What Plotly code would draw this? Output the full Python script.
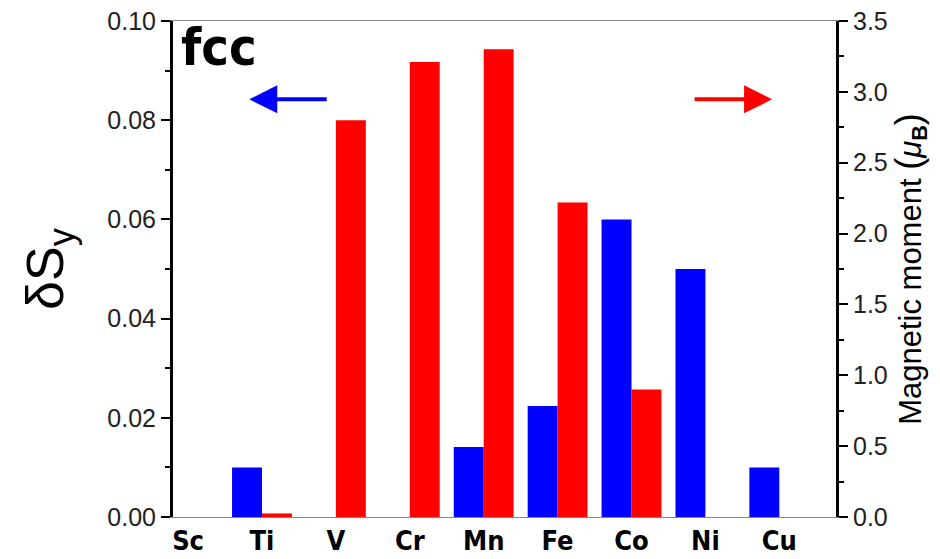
import plotly.graph_objects as go

elements = ["Sc", "Ti", "V", "Cr", "Mn", "Fe", "Co", "Ni", "Cu"]
delta_sy = [0.0, 0.010, 0.0, 0.0, 0.0141, 0.0224, 0.060, 0.050, 0.010]
moment = [0.0, 0.025, 2.80, 3.21, 3.30, 2.22, 0.90, 0.0, 0.0]

left_ticks = [0.00, 0.02, 0.04, 0.06, 0.08, 0.10]
right_ticks = [0.0, 0.5, 1.0, 1.5, 2.0, 2.5, 3.0, 3.5]

xpos = list(range(len(elements)))
cond = "DejaVu Sans Condensed, Liberation Sans, Arial"

fig = go.Figure()
fig.add_trace(go.Bar(x=xpos, y=delta_sy, width=0.405, offset=-0.405,
                     marker=dict(color="#0000ff", line=dict(width=0)),
                     yaxis="y", showlegend=False))
fig.add_trace(go.Bar(x=xpos, y=moment, width=0.405, offset=0,
                     marker=dict(color="#ff0000", line=dict(width=0)),
                     yaxis="y2", showlegend=False))

fig.update_layout(
    width=932, height=551,
    margin=dict(l=165, r=104, t=13, b=42),
    plot_bgcolor="white", paper_bgcolor="white",
    barmode="overlay",
    font=dict(family="Liberation Sans, Arial, sans-serif", color="black"),
    xaxis=dict(range=[-0.204, 8.767], tickmode="array", tickvals=xpos,
               ticktext=elements, showgrid=False, zeroline=False,
               showline=True, linecolor="#888888", linewidth=1, mirror=True,
               ticks="", automargin=False, ticklabeloverflow="allow",
               tickfont=dict(size=27, family=cond, weight="bold", color="black"),
               ticklabelstandoff=0),
    yaxis=dict(range=[0, 0.1], tickmode="array", tickvals=left_ticks,
               ticktext=[f"{v:.2f}" for v in left_ticks], automargin=False,
               ticklabeloverflow="allow",
               showgrid=False, zeroline=False, showline=True,
               linecolor="black", linewidth=3, ticks="outside", ticklen=9,
               tickwidth=2, tickcolor="black",
               minor=dict(dtick=0.01, ticks="outside", ticklen=5, tickwidth=2, tickcolor="black"),
               tickfont=dict(size=25, color="#222222"),
               title=dict(text="δS<sub>y</sub>", font=dict(size=52, color="black"), standoff=28)),
    yaxis2=dict(range=[0, 3.5], overlaying="y", side="right", tickmode="array",
                tickvals=right_ticks, ticktext=[f"{v:.1f}" for v in right_ticks],
                showgrid=False, zeroline=False, showline=True, automargin=False,
                ticklabeloverflow="allow",
                linecolor="black", linewidth=3, ticks="outside", ticklen=9,
                tickwidth=2, tickcolor="black",
                minor=dict(dtick=0.25, ticks="outside", ticklen=5, tickwidth=2, tickcolor="black"),
                tickfont=dict(size=25, color="#222222"),
                title=dict(text="Magnetic moment <span style=\"font-size:36px\">(</span><i>μ</i><sub><b>B</b></sub><span style=\"font-size:36px\">)</span>",
                           font=dict(size=31, color="black"), standoff=4)),
)

fig.add_annotation(x=-0.12, y=1.0, xref="x", yref="paper", xanchor="left", yanchor="top",
                   text="<b>fcc</b>", showarrow=False, yshift=6,
                   font=dict(size=52, family=cond, color="black"))

fig.add_annotation(x=0.828, y=0.0842, xref="x", yref="y", ax=1.896, ay=0.0842,
                   axref="x", ayref="y", text="", showarrow=True,
                   arrowhead=2, arrowsize=1.4, arrowwidth=4, arrowcolor="#0000ff")
fig.add_annotation(x=7.902, y=0.0842, xref="x", yref="y", ax=6.833, ay=0.0842,
                   axref="x", ayref="y", text="", showarrow=True,
                   arrowhead=2, arrowsize=1.4, arrowwidth=4, arrowcolor="#ff0000")

fig.write_html("out.html")
